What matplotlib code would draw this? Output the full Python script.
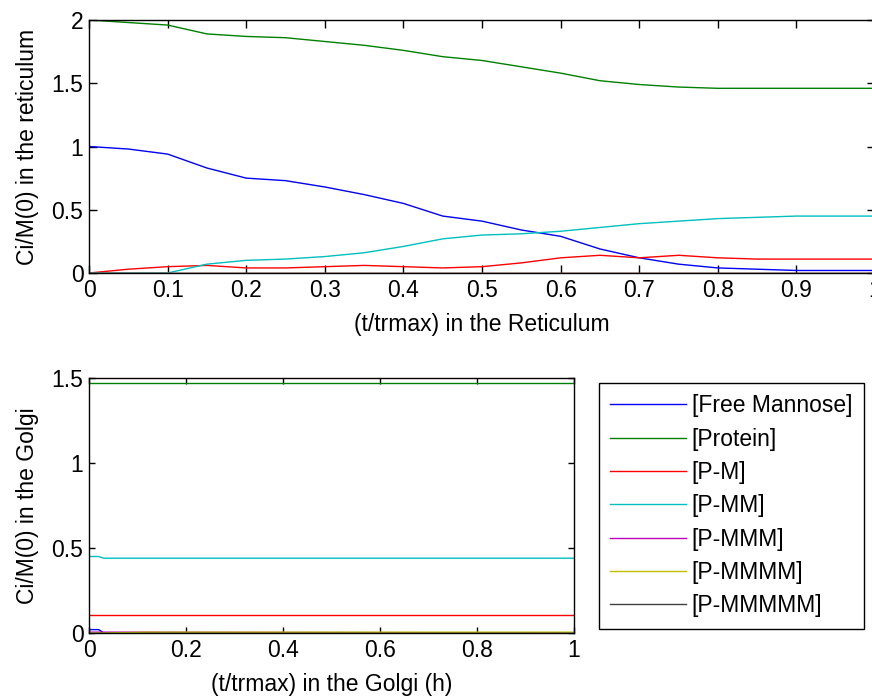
import numpy as np
import matplotlib
matplotlib.use('Agg')
import matplotlib.pyplot as plt
from matplotlib.ticker import FormatStrFormatter

plt.rcParams['font.family'] = ['Liberation Sans', 'DejaVu Sans']
plt.rcParams['font.size'] = 16.5

names = ['[Free Mannose]', '[Protein]', '[P-M]', '[P-MM]', '[P-MMM]', '[P-MMMM]', '[P-MMMMM]']
colors = [(0, 0, 1), (0, 0.5, 0), (1, 0, 0), (0, 0.75, 0.75),
          (0.75, 0, 0.75), (0.75, 0.75, 0), (0.25, 0.25, 0.25)]

# reticulum (top)
t_ret = [0, 0.05, 0.1, 0.15, 0.2, 0.25, 0.3, 0.35, 0.4, 0.45, 0.5,
         0.55, 0.6, 0.65, 0.7, 0.75, 0.8, 0.85, 0.9, 0.95, 1.0]
ret_mannose = [1.00, 0.98, 0.94, 0.83, 0.75, 0.73, 0.68, 0.62, 0.55, 0.45, 0.41,
               0.34, 0.29, 0.19, 0.12, 0.07, 0.04, 0.03, 0.02, 0.02, 0.02]
ret_protein = [2.00, 1.98, 1.96, 1.89, 1.87, 1.86, 1.83, 1.80, 1.76, 1.71, 1.68,
               1.63, 1.58, 1.52, 1.49, 1.47, 1.46, 1.46, 1.46, 1.46, 1.46]
ret_pm = [0.00, 0.03, 0.05, 0.06, 0.04, 0.04, 0.05, 0.06, 0.05, 0.04, 0.05,
          0.08, 0.12, 0.14, 0.12, 0.14, 0.12, 0.11, 0.11, 0.11, 0.11]
ret_pmm = [0.00, 0.00, 0.00, 0.07, 0.10, 0.11, 0.13, 0.16, 0.21, 0.27, 0.30,
           0.31, 0.33, 0.36, 0.39, 0.41, 0.43, 0.44, 0.45, 0.45, 0.45]
ret_pmmm = [0.0] * 21
ret_pmmmm = [0.0] * 21
ret_pmmmmm = [0.0] * 21

# golgi (bottom)
t_gol = [0, 0.02, 0.03, 0.12, 1.0]
gol_mannose = [0.02, 0.02, 0.0, 0.0, 0.0]
gol_protein = [1.47, 1.47, 1.47, 1.47, 1.47]
gol_pm = [0.105, 0.105, 0.105, 0.105, 0.105]
gol_pmm = [0.45, 0.45, 0.44, 0.44, 0.44]
gol_pmmm = [0.005, 0.005, 0.005, 0.005, 0.0]
gol_pmmmm = [0.0, 0.0, 0.0, 0.005, 0.005]
gol_pmmmmm = [0.0, 0.0, 0.0, 0.0, 0.0]

W, H = 872, 700
fig = plt.figure(figsize=(W / 100, H / 100), dpi=100)


def px_axes(l, t, r, b):
    return fig.add_axes([l / W, 1 - b / H, (r - l) / W, (b - t) / H])


def style(ax, ticklen):
    ax.tick_params(direction='in', top=True, right=True, length=ticklen,
                   width=1, pad=4)
    for s in ax.spines.values():
        s.set_linewidth(1.0)
    ax.xaxis.set_major_formatter(FormatStrFormatter('%g'))
    ax.yaxis.set_major_formatter(FormatStrFormatter('%g'))


ax1 = px_axes(89, 20, 875, 273)
ret = [ret_mannose, ret_protein, ret_pm, ret_pmm, ret_pmmm, ret_pmmmm, ret_pmmmmm]
for y, c in zip(ret, colors):
    ax1.plot(t_ret, y, color=c, lw=1.0)
ax1.set_xlim(0, 1)
ax1.set_ylim(0, 2)
ax1.set_xticks(np.arange(0, 1.01, 0.1))
ax1.set_yticks([0, 0.5, 1, 1.5, 2])
style(ax1, 6)
ax1.set_xlabel('(t/trmax) in the Reticulum', labelpad=8)
ax1.set_ylabel('Ci/M(0) in the reticulum', labelpad=9)

ax2 = px_axes(89, 378, 574, 633)
gol = [gol_mannose, gol_protein, gol_pm, gol_pmm, gol_pmmm, gol_pmmmm, gol_pmmmmm]
lines = []
for y, c, n in zip(gol, colors, names):
    ln, = ax2.plot(t_gol, y, color=c, lw=1.0, label=n)
    lines.append(ln)
ax2.set_xlim(0, 1)
ax2.set_ylim(0, 1.5)
ax2.set_xticks([0, 0.2, 0.4, 0.6, 0.8, 1])
ax2.set_yticks([0, 0.5, 1, 1.5])
style(ax2, 4)
ax2.set_xlabel('(t/trmax) in the Golgi (h)', labelpad=8)
ax2.set_ylabel('Ci/M(0) in the Golgi', labelpad=9)

leg = fig.legend(handles=lines, loc='upper left',
                 bbox_to_anchor=(599 / W, 1 - 383 / H), borderaxespad=0,
                 fancybox=False, edgecolor='black', framealpha=1,
                 handlelength=3.3, handletextpad=0.25, labelspacing=0.45,
                 borderpad=0.5)
leg.get_frame().set_linewidth(1.0)

fig.savefig('out.png', dpi=100)
